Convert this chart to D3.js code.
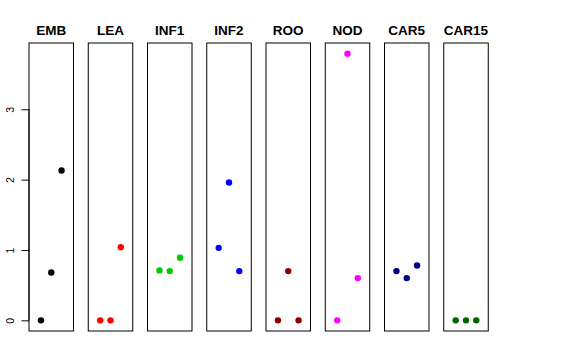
<!DOCTYPE html>
<html>
<head>
<meta charset="utf-8">
<script src="https://cdn.jsdelivr.net/npm/d3@7"></script>
<style>
  body { margin: 0; background: #fff; }
  svg { display: block; font-family: "Liberation Sans", Arial, sans-serif; }
</style>
</head>
<body>
<div id="chart"></div>
<script>
// panel names and colours
const panels = ["EMB", "LEA", "INF1", "INF2", "ROO", "NOD", "CAR5", "CAR15"];
const colors = ["#000000", "#FF0000", "#00CD00", "#0000FF", "#8B0000", "#FF00FF", "#000080", "#006400"];

// three values per panel
const emb   = [0, 0.68, 2.13];
const lea   = [0, 0, 1.04];
const inf1  = [0.71, 0.70, 0.89];
const inf2  = [1.03, 1.96, 0.70];
const roo   = [0, 0.70, 0];
const nod   = [0, 3.79, 0.60];
const car5  = [0.70, 0.60, 0.78];
const car15 = [0, 0, 0];
const series = [emb, lea, inf1, inf2, roo, nod, car5, car15];

const yTicks = [0, 1, 2, 3];

const width = 576, height = 360;
const plotTop = 43, plotBottom = 331;
const firstLeft = 29, panelW = 44.5, step = 59.25;

const svg = d3.select("#chart").append("svg")
  .attr("width", width)
  .attr("height", height);

const yMax = d3.max(series.flat());
const pad = yMax * 0.04;
const y = d3.scaleLinear().domain([-pad, yMax + pad]).range([plotBottom, plotTop]);

// x within a panel: positions 1..3 on a 0..4 range, extended 4%
const xInner = d3.scaleLinear().domain([-0.16, 4.16]).range([0, panelW]);

panels.forEach((name, i) => {
  const left = firstLeft + i * step;
  const g = svg.append("g").attr("transform", `translate(${left},0)`);

  g.append("rect")
    .attr("x", 0).attr("y", plotTop)
    .attr("width", panelW).attr("height", plotBottom - plotTop)
    .attr("fill", "none")
    .attr("stroke", "#000")
    .attr("stroke-width", 1);

  g.append("text")
    .attr("x", panelW / 2).attr("y", 34.5)
    .attr("text-anchor", "middle")
    .style("font-size", "13.5px")
    .style("font-weight", "bold")
    .text(name);

  g.selectAll("circle")
    .data(series[i])
    .enter()
    .append("circle")
    .attr("cx", (d, j) => xInner(j + 1))
    .attr("cy", d => y(d))
    .attr("r", 3.2)
    .attr("fill", colors[i]);
});

// y axis on the first panel
const axis = d3.axisLeft(y).tickValues(yTicks).tickSize(7.5).tickFormat(d3.format("d"));
const ax = svg.append("g")
  .attr("transform", `translate(${firstLeft},0)`)
  .call(axis);
ax.select(".domain").attr("d", `M0,${y(0)}V${y(3)}`);
ax.selectAll(".tick line").attr("stroke", "#000");
ax.selectAll("text")
  .style("font-size", "10.5px")
  .style("font-family", "'Liberation Sans', Arial, sans-serif")
  .attr("transform", "rotate(-90)")
  .attr("x", 0)
  .attr("y", -19)
  .attr("dy", "0.35em")
  .attr("text-anchor", "middle")
  .attr("fill", "#000");
</script>
</body>
</html>
